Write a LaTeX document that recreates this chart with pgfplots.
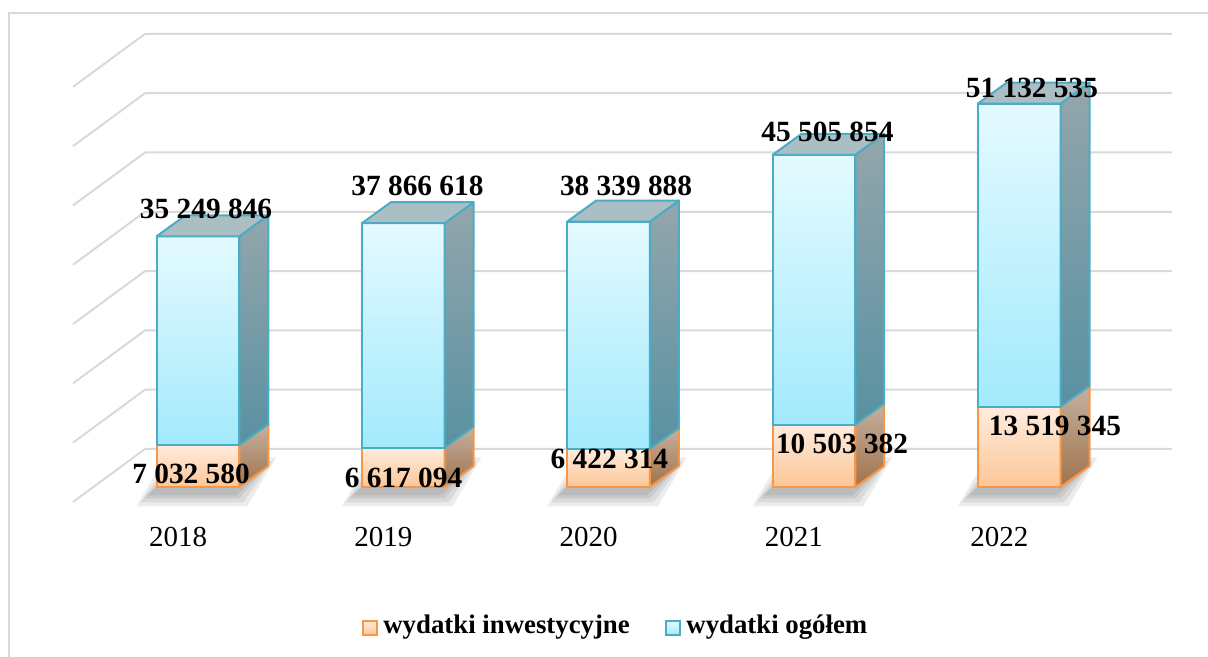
\documentclass[border=0pt]{standalone}
\usepackage{pgfplots}
\pgfplotsset{compat=1.18}
\usepackage{fontspec}
\setmainfont{Liberation Serif}
\definecolor{gridc}{RGB}{217,217,217}
\definecolor{framec}{RGB}{217,217,217}
\definecolor{orE}{RGB}{247,150,70}
\definecolor{orF1}{RGB}{255,236,222}
\definecolor{orF2}{RGB}{252,198,150}
\definecolor{orS1}{RGB}{196,176,160}
\definecolor{orS2}{RGB}{160,115,75}
\definecolor{cyE}{RGB}{75,172,198}
\definecolor{cyF1}{RGB}{228,250,255}
\definecolor{cyF2}{RGB}{162,234,252}
\definecolor{cyS1}{RGB}{148,166,172}
\definecolor{cyS2}{RGB}{88,145,162}
\definecolor{cyT}{RGB}{170,190,196}
\newcommand\lblfont{\fontsize{14.67pt}{16pt}\selectfont\bfseries}
\newcommand\yearfont{\fontsize{14.5pt}{16pt}\selectfont}
\newcommand\legfont{\fontsize{13.4pt}{15pt}\selectfont\bfseries}
% soft shadow layer: #1 index, #2 margin in px
\newcommand\shadowlayer[2]{%
 \pgfmathsetmacro\sxm{#2/205.3}%
 \pgfmathsetmacro\sym{#2/5.93}%
 \pgfmathsetmacro\sa{#1-0.2015-0.03-\sxm}%
 \pgfmathsetmacro\sb{#1+0.2015-0.03+\sxm}%
 \pgfmathsetmacro\sc{#1+0.2015+0.141-0.03+\sxm}%
 \pgfmathsetmacro\sd{#1-0.2015+0.141-0.03-\sxm}%
 \pgfmathsetmacro\se{-0.9-\sym}%
 \pgfmathsetmacro\sf{3.54-0.9+\sym}%
 \addplot[draw=none, fill=black, fill opacity=0.075] coordinates {(\sa,\se) (\sb,\se) (\sc,\sf) (\sd,\sf)} --cycle;
}
\newcommand\threeDshadow[1]{%
 \shadowlayer{#1}{14}\shadowlayer{#1}{10}\shadowlayer{#1}{6}\shadowlayer{#1}{3}%
}
% #1 index, #2 wydatki inwestycyjne (mln), #3 wydatki ogolem (mln)
\newcommand\threeDbar[3]{%
 \pgfmathsetmacro\xl{#1-0.2015}%
 \pgfmathsetmacro\xr{#1+0.2015}%
 \pgfmathsetmacro\xrb{#1+0.2015+0.141}%
 \pgfmathsetmacro\xlb{#1-0.2015+0.141}%
 \pgfmathsetmacro\ya{#2}%
 \pgfmathsetmacro\yt{#2+#3}%
 \pgfmathsetmacro\yz{3.54}%
 \pgfmathsetmacro\yad{#2+3.54}%
 \pgfmathsetmacro\ytd{#2+#3+3.54}%
 \addplot[draw=orE, line width=1pt, line join=round, top color=orF1, bottom color=orF2] coordinates {(\xl,0) (\xr,0) (\xr,\ya) (\xl,\ya)} --cycle;
 \addplot[draw=orE, line width=1pt, line join=round, top color=orS1, bottom color=orS2] coordinates {(\xr,0) (\xrb,\yz) (\xrb,\yad) (\xr,\ya)} --cycle;
 \addplot[draw=cyE, line width=1pt, line join=round, top color=cyF1, bottom color=cyF2] coordinates {(\xl,\ya) (\xr,\ya) (\xr,\yt) (\xl,\yt)} --cycle;
 \addplot[draw=cyE, line width=1pt, line join=round, top color=cyS1, bottom color=cyS2] coordinates {(\xr,\ya) (\xrb,\yad) (\xrb,\ytd) (\xr,\yt)} --cycle;
 \addplot[draw=cyE, line width=1pt, line join=round, fill=cyT] coordinates {(\xl,\yt) (\xr,\yt) (\xrb,\ytd) (\xlb,\ytd)} --cycle;
}
\begin{document}
\begin{tikzpicture}
\begin{axis}[
  scale only axis, width=604pt, height=328.5pt,
  xmin=-0.9644, xmax=4.9196, ymin=-28.668, ymax=82.125,
  hide axis, clip=false,
]
% back wall gridlines (every 10 mln)
\addplot[gridc, line width=1pt] coordinates {(-0.609,-2.53) (-0.258,6.41) (4.744,6.41)};
\addplot[gridc, line width=1pt] coordinates {(-0.609,7.47) (-0.258,16.41) (4.744,16.41)};
\addplot[gridc, line width=1pt] coordinates {(-0.609,17.47) (-0.258,26.41) (4.744,26.41)};
\addplot[gridc, line width=1pt] coordinates {(-0.609,27.47) (-0.258,36.41) (4.744,36.41)};
\addplot[gridc, line width=1pt] coordinates {(-0.609,37.47) (-0.258,46.41) (4.744,46.41)};
\addplot[gridc, line width=1pt] coordinates {(-0.609,47.47) (-0.258,56.41) (4.744,56.41)};
\addplot[gridc, line width=1pt] coordinates {(-0.609,57.47) (-0.258,66.41) (4.744,66.41)};
\addplot[gridc, line width=1pt] coordinates {(-0.609,67.47) (-0.258,76.41) (4.744,76.41)};
% shadows
\threeDshadow{0}\threeDshadow{1}\threeDshadow{2}\threeDshadow{3}\threeDshadow{4}
% bars
\threeDbar{0}{7.032580}{35.249846}
\threeDbar{1}{6.617094}{37.866618}
\threeDbar{2}{6.422314}{38.339888}
\threeDbar{3}{10.503382}{45.505854}
\threeDbar{4}{13.519345}{51.132535}
% value labels
\node[font=\lblfont, inner sep=0pt] at (axis cs:0.039,46.88) {35 249 846};
\node[font=\lblfont, inner sep=0pt] at (axis cs:1.069,50.84) {37 866 618};
\node[font=\lblfont, inner sep=0pt] at (axis cs:2.085,50.84) {38 339 888};
\node[font=\lblfont, inner sep=0pt] at (axis cs:3.066,59.95) {45 505 854};
\node[font=\lblfont, inner sep=0pt] at (axis cs:4.062,67.28) {51 132 535};
\node[font=\lblfont, inner sep=0pt] at (axis cs:-0.034,2.28) {7 032 580};
\node[font=\lblfont, inner sep=0pt] at (axis cs:1.001,1.60) {6 617 094};
\node[font=\lblfont, inner sep=0pt] at (axis cs:2.004,4.72) {6 422 314};
\node[font=\lblfont, inner sep=0pt] at (axis cs:3.137,7.34) {10 503 382};
\node[font=\lblfont, inner sep=0pt] at (axis cs:4.174,10.29) {13 519 345};
% categories
\node[font=\yearfont, inner sep=0pt] at (axis cs:-0.097,-8.35) {2018};
\node[font=\yearfont, inner sep=0pt] at (axis cs:0.903,-8.35) {2019};
\node[font=\yearfont, inner sep=0pt] at (axis cs:1.903,-8.35) {2020};
\node[font=\yearfont, inner sep=0pt] at (axis cs:2.903,-8.35) {2021};
\node[font=\yearfont, inner sep=0pt] at (axis cs:3.903,-8.35) {2022};
% legend
\draw[orE, line width=1pt, top color=orF1, bottom color=orF2] (axis cs:0.8037,-24.96) rectangle (axis cs:0.8719,-22.60);
\node[font=\legfont, inner sep=0pt, anchor=west] at (axis cs:0.9011,-23.61) {wydatki inwestycyjne};
\draw[cyE, line width=1pt, top color=cyF1, bottom color=cyF2] (axis cs:2.2795,-24.96) rectangle (axis cs:2.3477,-22.60);
\node[font=\legfont, inner sep=0pt, anchor=west] at (axis cs:2.3770,-23.61) {wydatki ogółem};
% chart frame
\draw[framec, line width=0.8pt] (axis cs:-0.9206,-28.668) |- (axis cs:4.9196,79.93);
\end{axis}
\pgfresetboundingbox
\useasboundingbox (0,0) rectangle (604pt,328.5pt);
\end{tikzpicture}
\end{document}
